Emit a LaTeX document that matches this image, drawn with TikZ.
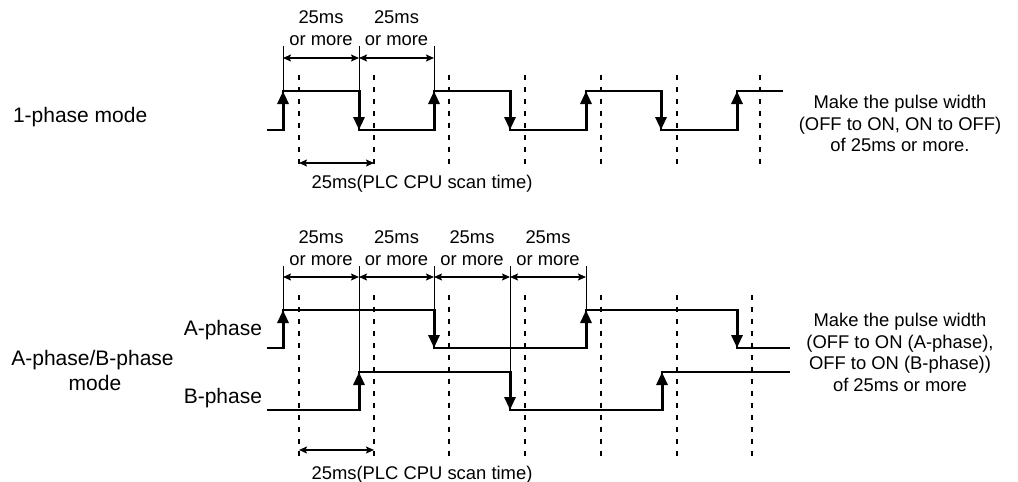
\documentclass[tikz,border=0pt]{standalone}
\usepackage{fontspec}
\setmainfont{Liberation Sans}
\usetikzlibrary{arrows.meta}
\begin{document}
\begin{tikzpicture}[x=1pt,y=-1pt,
  every node/.style={inner sep=0pt,outer sep=0pt},
  lbl/.style={font=\fontsize{18.4}{21.4}\selectfont},
  biglbl/.style={font=\fontsize{21}{25}\selectfont},
  sigline/.style={line width=2pt,line join=miter},
  edgearrow/.style={line width=3pt,-{Triangle[width=11pt,length=13pt]}},
  dimline/.style={line width=1.3pt,{Stealth[width=7pt,length=8pt,inset=1.5pt]}-{Stealth[width=7pt,length=8pt,inset=1.5pt]}},
  extline/.style={line width=0.9pt},
  scanline/.style={line width=1.3pt,dash pattern=on 5pt off 7pt},
]
\useasboundingbox (0,0) rectangle (1018,482);

% ---------- scan-time dashed lines ----------
\foreach \x in {299,374,449,525,601,677,760} \draw[scanline] (\x,75) -- (\x,170);
\foreach \x in {299,374,449,525,601,677,752} \draw[scanline] (\x,295) -- (\x,460);

% ================= 1-phase mode =================
\node[biglbl,anchor=base west] (onemode) at (13,122) {1-phase mode};

\draw[sigline] (267,130) -| (283,91) -| (359,130) -| (434,91) -| (510,130)
  -| (586,91) -| (661,130) -| (737,91) -- (783,91);
\foreach \x in {283,434,586,737} \draw[edgearrow] (\x,131) -- (\x,91);
\foreach \x in {359,510,661} \draw[edgearrow] (\x,90) -- (\x,130);

% extension lines
\foreach \x in {283,359,434} \draw[extline] (\x,46) -- (\x,91);
% dimension arrows
\coordinate (d1) at (283,58); \coordinate (d2) at (359,58); \coordinate (d3) at (434,58);
\draw[dimline] (d1) -- (d2);
\draw[dimline] (d2) -- (d3);
\node[lbl,anchor=base] (ta1) at (321,23) {25ms};
\node[lbl,anchor=base] (tb1) at (321,45) {or more};
\node[lbl,anchor=base] (ta2) at (396.5,23) {25ms};
\node[lbl,anchor=base] (tb2) at (396.5,45) {or more};

% scan time
\coordinate (s1) at (299,163); \coordinate (s2) at (374,163);
\draw[dimline] (s1) -- (s2);
\node[lbl,anchor=base] (scan1) at (422,188) {25ms(PLC CPU scan time)};

\node[lbl,anchor=north,align=center] (note1) at (900,95.3)
  {Make the pulse width\\(OFF to ON, ON to OFF)\\of 25ms or more.};

% ================= A-phase/B-phase mode =================
\node[biglbl,anchor=base] (abmode1) at (92.5,365) {A-phase/B-phase};
\node[biglbl,anchor=base] (abmode2) at (95,390) {mode};
\node[biglbl,anchor=base east] (aph) at (262,335) {A-phase};
\node[biglbl,anchor=base east] (bph) at (262,403) {B-phase};

% A-phase
\draw[sigline] (267,348) -| (283,310) -| (434,348) -| (586,310) -| (737,348) -- (790,348);
\foreach \x in {283,586} \draw[edgearrow] (\x,349) -- (\x,310);
\foreach \x in {434,737} \draw[edgearrow] (\x,309) -- (\x,348);
% B-phase
\draw[sigline] (267,410) -| (359,372) -| (510,410) -| (662,372) -- (790,372);
\foreach \x in {359,662} \draw[edgearrow] (\x,411) -- (\x,372);
\draw[edgearrow] (510,371) -- (510,410);

% extension lines
\draw[extline] (283,266) -- (283,310);
\draw[extline] (359,266) -- (359,372);
\draw[extline] (434,266) -- (434,310);
\draw[extline] (510,266) -- (510,372);
\draw[extline] (586,266) -- (586,310);
% dimension arrows
\coordinate (e1) at (283,277); \coordinate (e2) at (359,277); \coordinate (e3) at (434,277);
\coordinate (e4) at (510,277); \coordinate (e5) at (586,277);
\draw[dimline] (e1) -- (e2);
\draw[dimline] (e2) -- (e3);
\draw[dimline] (e3) -- (e4);
\draw[dimline] (e4) -- (e5);
\foreach \c/\n in {321/1,396.5/2,472/3,548/4} {
  \node[lbl,anchor=base] (ua\n) at (\c,243) {25ms};
  \node[lbl,anchor=base] (ub\n) at (\c,265) {or more};
}

% scan time
\coordinate (r1) at (299,450); \coordinate (r2) at (374,450);
\draw[dimline] (r1) -- (r2);
\node[lbl,anchor=base] (scan2) at (422,479) {25ms(PLC CPU scan time)};

\node[lbl,anchor=north,align=center] (note2) at (900,313.5)
  {Make the pulse width\\(OFF to ON (A-phase),\\OFF to ON (B-phase))\\of 25ms or more};
\end{tikzpicture}
\end{document}
